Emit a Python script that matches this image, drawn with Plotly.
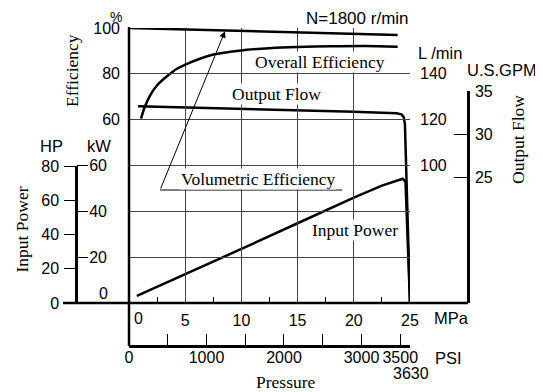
import plotly.graph_objects as go

# pressure in MPa for every curve
vol_p = [0.0, 5, 10, 15, 20, 23.9]
vol_eff = [100, 99.3, 98.6, 98.0, 97.4, 96.9]

ovr_p = [1.07, 1.4, 1.87, 2.5, 3.35, 4.3, 5.0, 6.3, 7.5, 9.0, 10.5, 12.5, 15, 18, 21, 23.9]
ovr_eff = [60.5, 65.5, 70.5, 75.0, 78.8, 82.3, 84.0, 86.6, 88.4, 89.6, 90.5, 91.2, 91.7, 92.0, 92.1, 91.8]

flow_p = [0.8, 5, 10, 15, 20, 23.8, 24.25, 24.45, 24.55, 25.0]
flow_lpm = [125.9, 125.4, 124.8, 124.1, 123.4, 122.8, 122.3, 121.0, 118, 40]

pow_p = [0.7, 5, 10, 15, 20, 22.5, 24.0, 24.35, 24.6, 25.0]
pow_kw = [3.1, 12.5, 23.6, 34.8, 46.0, 51.2, 53.8, 54.2, 53.0, 0]

mpa_grid = [0, 5, 10, 15, 20, 25]
mpa_text = ["", "5", "10", "15", "20", "25"]
mpa_minor = [2.5, 7.5, 12.5, 17.5, 22.5]
psi_ticks = [0, 500, 1000, 1500, 2000, 2500, 3000, 3500, 3630]
psi_text = ["0", "", "1000", "", "2000", "", "3000", "3500", ""]
eff_grid = [-20, 0, 20, 40, 60, 80, 100]
eff_text = ["", "", "", "", "60", "80", "100"]
lpm_ticks = [100, 120, 140]
hp_ticks = [0, 20, 40, 60, 80]
kw_ticks = [20, 40, 60]
gpm_ticks = [25, 30, 35]

KW_PER_HP = 0.7457
LPM_PER_GPM = 3.78541
PSI_PER_MPA = 145.038

# the page body keeps an 8px margin, so the figure is drawn 8px in from the window edge
OFF = 8
W, H = 543 - OFF, 392 - OFF
def px(v): return (v - OFF) / W
def py(v): return 1 - (v - OFF) / H

X0, X1 = px(129), px(410)
Y0, Y1 = py(303), py(28)

SANS = "Liberation Sans, Arial, sans-serif"
SERIF = "Liberation Serif, Times New Roman, serif"
LW = 2.5

fig = go.Figure()
fig.add_trace(go.Scatter(x=vol_p, y=vol_eff, mode="lines", line=dict(color="black", width=LW)))
fig.add_trace(go.Scatter(x=ovr_p, y=ovr_eff, mode="lines",
                         line=dict(color="black", width=LW, shape="spline", smoothing=0.8)))
fig.add_trace(go.Scatter(x=flow_p, y=flow_lpm, yaxis="y2", mode="lines",
                         line=dict(color="black", width=LW)))
fig.add_trace(go.Scatter(x=pow_p, y=pow_kw, yaxis="y3", mode="lines",
                         line=dict(color="black", width=LW)))
# empty traces so the extra scales get drawn
for ya in ["y4", "y5", "y6"]:
    fig.add_trace(go.Scatter(x=[], y=[], yaxis=ya, hoverinfo="skip"))
fig.add_trace(go.Scatter(x=[], y=[], xaxis="x2", hoverinfo="skip"))

tickf = dict(family=SANS, size=16, color="black")
grid = dict(showgrid=True, gridcolor="#444", gridwidth=1, zeroline=False)

fig.update_layout(
    width=W, height=H, template="none", showlegend=False,
    margin=dict(l=0, r=0, t=0, b=0),
    paper_bgcolor="white", plot_bgcolor="rgba(0,0,0,0)",
    font=dict(family=SANS, size=16, color="black"),
    xaxis=dict(domain=[X0, X1], range=[0, 25], tickvals=mpa_grid, ticktext=mpa_text,
               ticks="", showline=False, tickfont=tickf, ticklabelstandoff=6, tickangle=0,
               minor=dict(tickvals=mpa_minor, ticks="inside", ticklen=6, tickwidth=1,
                          tickcolor="black", showgrid=False), **grid),
    xaxis2=dict(anchor="free", position=py(346), side="bottom",
                domain=[X0, X0 + 3630 / PSI_PER_MPA / 25 * (X1 - X0)], range=[0, 3630],
                tickvals=psi_ticks, ticktext=psi_text, ticks="inside", ticklen=11,
                tickwidth=1.2, tickcolor="black", showline=True, linewidth=LW,
                linecolor="black", showgrid=False, zeroline=False, tickfont=tickf,
                tickangle=0, ticklabelstandoff=-4),
    yaxis=dict(domain=[Y0, Y1], range=[-20, 100], tickvals=eff_grid, ticktext=eff_text,
               ticks="", showline=False, tickfont=tickf, ticklabelstandoff=8, **grid),
    yaxis2=dict(overlaying="y", side="right", range=[40, 160], tickvals=lpm_ticks,
                ticks="", showgrid=False, zeroline=False, showline=False,
                tickfont=tickf, ticklabelstandoff=9),
    yaxis3=dict(overlaying="y", range=[0, 120], visible=False),
    yaxis4=dict(anchor="free", position=px(76), side="left",
                domain=[Y0, Y0 + 0.5 * (Y1 - Y0)], range=[0, 60 / KW_PER_HP],
                tickvals=hp_ticks, ticks="outside", ticklen=11, tickwidth=1.2,
                tickcolor="black", showline=True, linewidth=LW, linecolor="black",
                showgrid=False, zeroline=False, tickfont=tickf, ticklabelstandoff=2),
    yaxis5=dict(anchor="free", position=px(76), side="right",
                domain=[Y0, Y0 + 0.5 * (Y1 - Y0)], range=[0, 60],
                tickvals=kw_ticks, ticks="outside", ticklen=11, tickwidth=1.2,
                tickcolor="black", showline=False, showgrid=False, zeroline=False,
                tickfont=tickf, ticklabelstandoff=-2),
    yaxis6=dict(anchor="free", position=px(468), side="right",
                domain=[Y0, Y0 + (35 * LPM_PER_GPM - 40) / 120 * (Y1 - Y0)],
                range=[40 / LPM_PER_GPM, 35], tickvals=gpm_ticks, ticks="inside",
                ticklen=13, tickwidth=1.2, tickcolor="black", showline=True,
                linewidth=LW, linecolor="black", showgrid=False, zeroline=False,
                tickfont=tickf, ticklabelstandoff=2),
)

# extended frame lines
fig.add_shape(type="line", xref="paper", yref="paper", x0=px(63), x1=px(468),
              y0=py(303), y1=py(303), line=dict(color="black", width=LW))
fig.add_shape(type="line", xref="paper", yref="paper", x0=px(129), x1=px(129),
              y0=py(27), y1=py(346), line=dict(color="black", width=LW))
# leader under "Volumetric Efficiency"
fig.add_shape(type="line", xref="x", yref="y", x0=2.76, x1=18.95, y0=29.3, y1=29.3,
              line=dict(color="black", width=1))
fig.add_annotation(x=8.54, y=98.6, xref="x", yref="y", ax=2.76, ay=29.3,
                   axref="x", ayref="y", text="", showarrow=True, arrowhead=2,
                   arrowsize=1.3, arrowwidth=1, arrowcolor="black")

def label(text, x, y, size=16.5, family=SANS, angle=0, bg=None, yanchor="middle"):
    fig.add_annotation(x=px(x), y=py(y), xref="paper", yref="paper", text=text,
                       showarrow=False, textangle=angle, xanchor="center", yanchor=yanchor,
                       font=dict(family=family, size=size, color="black"),
                       bgcolor=bg, borderpad=0)

label("%", 116, 8, 14, yanchor="top")
label("Efficiency", 72, 71, 17.5, SERIF, -90)
label("HP", 51, 146)
label("kW", 99, 146)
label("Input Power", 21.5, 230, 17.5, SERIF, -90)
label("0", 104, 293, 16)
label("0", 138, 318, 16)
label("MPa", 451, 318)
label("PSI", 448, 358)
label("3630", 411, 373, 16)
label("Pressure", 286, 382, 17.5, SERIF)
label("N=1800 r/min", 357, 8, 17, yanchor="top")
label("L /min", 440, 53)
label("U.S.GPM", 502, 70)
label("Output Flow", 518, 140, 17.5, SERIF, -90)
label("Overall Efficiency", 320, 62, 17.5, SERIF, bg="white")
label("Output Flow", 276, 94, 17.5, SERIF, bg="white")
label("Volumetric Efficiency", 258, 179, 17.5, SERIF, bg="white")
label("Input Power", 355, 230, 17.5, SERIF, bg="white")

fig.write_html("out.html")
